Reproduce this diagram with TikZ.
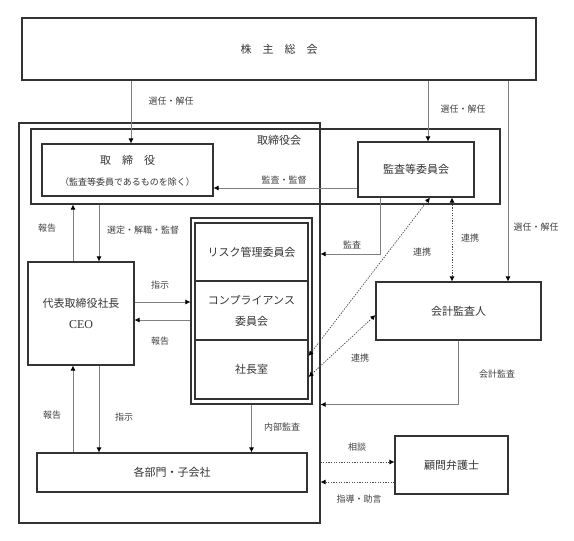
\documentclass[tikz,border=0pt]{standalone}
\usepackage{fontspec}
\setmainfont{Noto Sans CJK JP}
\newfontfamily\latinserif{Liberation Serif}
\usetikzlibrary{calc,arrows.meta}

\tikzset{
  orgbox/.style={draw=black!80, line width=1.1pt, inner sep=0pt, align=center,
    text=black!80, font=\fontsize{11}{21}\selectfont},
  frame/.style={draw=black!80, line width=1.1pt, inner sep=0pt},
  link/.style={draw=black!50, line width=0.7pt, -{Latex[black,length=5pt,width=5pt]}},
  coop/.style={draw=black!70, line width=0.75pt, dash pattern=on 1.3pt off 1.3pt,
    {Latex[black,length=5pt,width=5pt]}-{Latex[black,length=5pt,width=5pt]}},
  consult/.style={draw=black!70, line width=0.75pt, dash pattern=on 1.3pt off 1.3pt,
    -{Latex[black,length=5pt,width=5pt]}},
  lbl/.style={text=black!75, font=\fontsize{9}{10}\selectfont, inner sep=1pt},
}

\begin{document}
\begin{tikzpicture}[x=1pt, y=-1pt]
\useasboundingbox (0,0) rectangle (574,541);

% shareholders
\node[orgbox, minimum width=514pt, minimum height=62pt] (gm) at (279,49) {株　主　総　会};

% company and board
\node[frame, minimum width=301pt, minimum height=400pt] (company) at (169.5,323) {};
\node[frame, minimum width=469pt, minimum height=75pt] (board) at (265.5,166.5) {};
\node[text=black!80, font=\fontsize{11}{13}\selectfont] (boardname) at (279,140) {取締役会};

\node[orgbox, minimum width=171pt, minimum height=52pt] (dir) at (127.5,170) {};
\node[text=black!80, font=\fontsize{11}{13}\selectfont] (dirname) at (127.5,160) {取　締　役};
\node[lbl, text=black!80] (dirnote) at (127.5,182) {（監査等委員であるものを除く）};
\node[orgbox, minimum width=116pt, minimum height=55pt] (audit) at (416,169.5) {監査等委員会};

% executive side
\node[orgbox, minimum width=106pt, minimum height=103pt] (ceo) at (81,313.5) {代表取締役社長\\{\latinserif\fontsize{12}{21}\selectfont CEO}};
\node[frame, minimum width=121pt, minimum height=186pt] (cmtframe) at (251.5,311) {};
\node[orgbox, minimum width=113pt, minimum height=58pt] (risk) at (251.5,252) {リスク管理委員会};
\node[orgbox, minimum width=113pt, minimum height=59pt] (comp) at (251.5,310.5) {コンプライアンス\\委員会};
\node[orgbox, minimum width=113pt, minimum height=59pt] (office) at (251.5,369.5) {社長室};
\node[orgbox, minimum width=270pt, minimum height=39pt] (dept) at (172,472.5) {各部門・子会社};

% outside
\node[orgbox, minimum width=165pt, minimum height=58pt] (acct) at (458.5,311) {会計監査人};
\node[orgbox, minimum width=113pt, minimum height=58pt] (lawyer) at (451.5,465) {顧問弁護士};

% arrows
\draw[link] (131,0 |- gm.south) -- (131,0 |- dir.north);
\draw[link] (428,0 |- gm.south) -- (428,0 |- audit.north);
\draw[link] (508,0 |- gm.south) -- (508,0 |- acct.north);
\draw[link] (audit.west |- 0,188) -- (dir.east |- 0,188);
\draw[link] (380,0 |- audit.south) |- (company.east |- 0,254);
\draw[link] (acct.south) |- (company.east |- cmtframe.south);

\draw[link] (99,0 |- board.south) -- (99,0 |- ceo.north);
\draw[link] (73,0 |- ceo.north) -- (73,0 |- board.south);
\draw[link] (ceo.east |- 0,302) -- (cmtframe.west |- 0,302);
\draw[link] (cmtframe.west |- 0,320) -- (ceo.east |- 0,320);
\draw[link] (99,0 |- ceo.south) -- (99,0 |- dept.north);
\draw[link] (73,0 |- dept.north) -- (73,0 |- ceo.south);
\draw[link] (cmtframe.south) -- (cmtframe.south |- dept.north);

% cooperation
\draw[coop] (430,0 |- audit.south) -- (office.east |- 0,356);
\draw[coop] (452,0 |- audit.south) -- (452,0 |- acct.north);
\draw[coop] (acct.west |- 0,315) -- (office.east |- 0,377);
\draw[consult] (company.east |- 0,462) -- (lawyer.west |- 0,462);
\draw[consult] (lawyer.west |- 0,482) -- (company.east |- 0,482);

% labels
\node[lbl] (elect1) at (171,101) {選任・解任};
\node[lbl] (elect2) at (463,109) {選任・解任};
\node[lbl] (elect3) at (536,227) {選任・解任};
\node[lbl] (supervise) at (284,180) {監査・監督};
\node[lbl] (auditlbl) at (352,245) {監査};
\node[lbl] (coop1) at (470,238) {連携};
\node[lbl] (coop2) at (422,252) {連携};
\node[lbl] (coop3) at (360,358) {連携};
\node[lbl] (acctaudit) at (497,374) {会計監査};
\node[lbl] (report1) at (47,228) {報告};
\node[lbl] (appoint) at (143,230) {選定・解職・監督};
\node[lbl] (order1) at (160,285) {指示};
\node[lbl] (report2) at (160,341) {報告};
\node[lbl] (report3) at (52,415) {報告};
\node[lbl] (order2) at (124,417) {指示};
\node[lbl] (internal) at (282,427) {内部監査};
\node[lbl] (consultlbl) at (357,447) {相談};
\node[lbl] (advice) at (359,499) {指導・助言};
\end{tikzpicture}
\end{document}
